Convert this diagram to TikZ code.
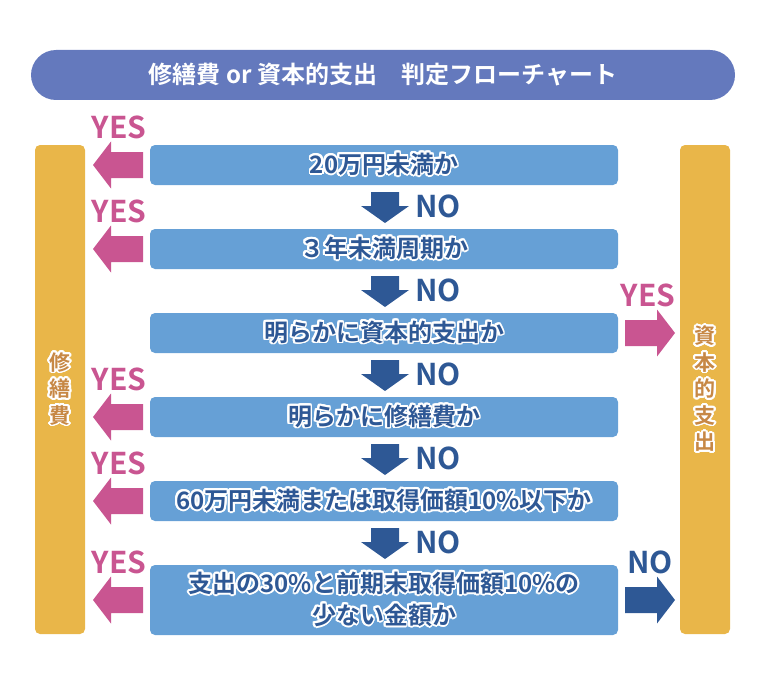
\documentclass[tikz,border=0pt]{standalone}
\usepackage{fontspec}
\setmainfont{Noto Sans CJK JP}[BoldFont={Noto Sans CJK JP Bold}]
\usepackage{contour}
\contourlength{1.8pt}
\contournumber{24}
\definecolor{titlec}{HTML}{6479BD}
\definecolor{boxc}{HTML}{66A0D6}
\definecolor{darkc}{HTML}{2E5895}
\definecolor{pinkc}{HTML}{C95591}
\definecolor{goldc}{HTML}{E9B649}
\definecolor{sidec}{HTML}{C78845}
\tikzset{
  qbox/.style={fill=boxc, rounded corners=5pt, draw=none, inner sep=0pt,
    minimum width=468pt, minimum height=40pt, text=darkc, align=center,
    font=\bfseries\fontsize{24}{32}\selectfont},
  sidebar/.style={fill=goldc, rounded corners=5pt, draw=none, inner sep=0pt,
    minimum width=50pt, minimum height=489pt, text=sidec, align=center,
    font=\bfseries\fontsize{21}{26.5}\selectfont},
  yeslbl/.style={text=pinkc, inner sep=0pt, font=\bfseries\fontsize{30}{30}\selectfont},
  nolbl/.style={text=darkc, inner sep=0pt, font=\bfseries\fontsize{30}{30}\selectfont},
  pics/harrow/.style={code={\fill[#1] (0,0) -- (18,-23.5) -- (18,-13) -- (50,-13) -- (50,13) -- (18,13) -- (18,23.5) -- cycle;}},
  pics/varrow/.style={code={\fill[#1] (0,0) -- (-24,-17) -- (-14,-17) -- (-14,-31) -- (14,-31) -- (14,-17) -- (24,-17) -- cycle;}},
}
\begin{document}
\begin{tikzpicture}[x=1pt,y=-1pt]
\useasboundingbox (0,0) rectangle (768,690);

% title
\node[fill=titlec, rounded corners=25pt, minimum width=704pt, minimum height=50pt, inner sep=0pt,
  text=white, font=\bfseries\fontsize{24}{30}\selectfont] (title) at (383,75)
  {修繕費 or 資本的支出　判定フローチャート};

% side bars
\node[sidebar] (lbar) at (60,389.5) {\contour{white}{修}\\\contour{white}{繕}\\\contour{white}{費}};
\node[sidebar] (rbar) at (705,389.5) {\contour{white}{資}\\\contour{white}{本}\\\contour{white}{的}\\\contour{white}{支}\\\contour{white}{出}};

% question boxes
\node[qbox] (q1) at (384,165) {\contour{white}{20万円未満か}};
\node[qbox] (q2) at (384,249) {\contour{white}{３年未満周期か}};
\node[qbox] (q3) at (384,333) {\contour{white}{明らかに資本的支出か}};
\node[qbox] (q4) at (384,417) {\contour{white}{明らかに修繕費か}};
\node[qbox] (q5) at (384,501) {\contour{white}{60万円未満または取得価額10\%以下か}};
\node[qbox, minimum height=70pt] (q6) at (384,600) {\contour{white}{支出の30\%と前期末取得価額10\%の}\\\contour{white}{少ない金額か}};

% down arrows with NO
\foreach \t in {223,307,391,475,559} {
  \pic at (385,\t) {varrow=darkc};
}
\node[nolbl] (no1) at (438,206) {NO};
\node[nolbl] (no2) at (438,290) {NO};
\node[nolbl] (no3) at (438,374) {NO};
\node[nolbl] (no4) at (438,458) {NO};
\node[nolbl] (no5) at (438,542) {NO};

% left YES arrows
\foreach \c in {165,249,417,501,600} {
  \pic at (93,\c) {harrow=pinkc};
}
\node[yeslbl] (y1) at (119,127) {YES};
\node[yeslbl] (y2) at (119,211) {YES};
\node[yeslbl] (y4) at (119,379) {YES};
\node[yeslbl] (y5) at (119,463) {YES};
\node[yeslbl] (y6) at (119,562) {YES};

% right arrows
\pic[xscale=-1] at (675,333) {harrow=pinkc};
\node[yeslbl] (y3) at (648,295) {YES};
\pic[xscale=-1] at (675,600) {harrow=darkc};
\node[nolbl] (no6) at (650,562) {NO};
\end{tikzpicture}
\end{document}
